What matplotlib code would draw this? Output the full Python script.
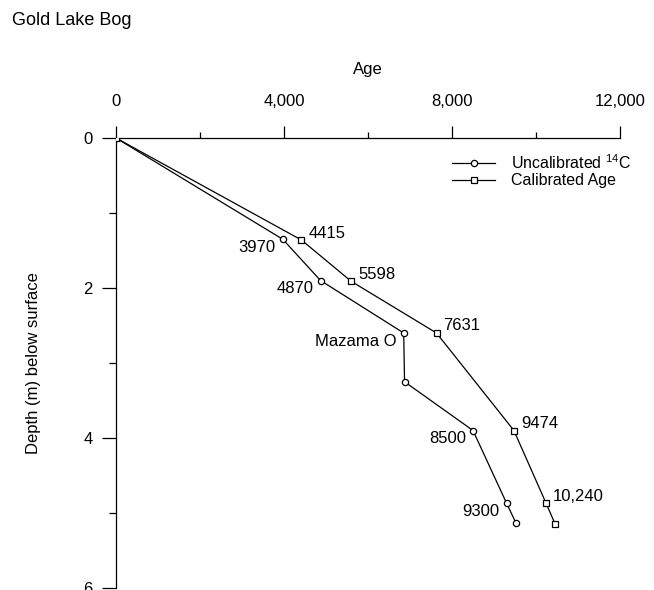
import matplotlib
matplotlib.use('Agg')
import matplotlib.pyplot as plt
from matplotlib.ticker import MultipleLocator, FuncFormatter

plt.rcParams['font.family'] = ['Liberation Sans', 'DejaVu Sans']
plt.rcParams['mathtext.fontset'] = 'custom'
plt.rcParams['mathtext.rm'] = 'Liberation Sans'
plt.rcParams['mathtext.it'] = 'Liberation Sans:italic'

# uncalibrated radiocarbon ages
uncal_age = [0, 3970, 4870, 6850, 6870, 8500, 9300, 9520]
uncal_depth = [0, 1.35, 1.90, 2.60, 3.25, 3.90, 4.87, 5.13]
uncal_labels = ['', '3970', '4870', 'Mazama O', '', '8500', '9300', '']

# calibrated ages
cal_age = [0, 4415, 5598, 7631, 9474, 10240, 10450]
cal_depth = [0, 1.36, 1.91, 2.60, 3.90, 4.87, 5.14]
cal_labels = ['', '4415', '5598', '7631', '9474', '10,240', '']

W, H = 654, 590
fig = plt.figure(figsize=(W / 100, H / 100), dpi=100, facecolor='white')
ax = fig.add_axes([116 / W, 2 / H, 504 / W, 450 / H])

ax.plot(uncal_age, uncal_depth, color='black', lw=0.9, marker='o', ms=4.5,
        mfc='white', mec='black', mew=0.9, label='Uncalibrated $^{14}$C', zorder=3)
ax.plot(cal_age, cal_depth, color='black', lw=0.9, marker='s', ms=5,
        mfc='white', mec='black', mew=0.9, label='Calibrated Age', zorder=3)

px = 0.72  # pixels -> points
for a, d, t in zip(uncal_age, uncal_depth, uncal_labels):
    if t:
        ax.annotate(t, (a, d), xytext=(-7 * px, -8 * px), textcoords='offset points',
                    ha='right', va='center', fontsize=12)
for a, d, t in zip(cal_age, cal_depth, cal_labels):
    if t:
        ax.annotate(t, (a, d), xytext=(7 * px, 7 * px), textcoords='offset points',
                    ha='left', va='center', fontsize=12)

ax.set_xlim(0, 12000)
ax.set_ylim(6, 0)
ax.xaxis.set_ticks_position('top')
ax.xaxis.set_label_position('top')
ax.spines['right'].set_visible(False)
ax.spines['bottom'].set_visible(False)
for s in ('top', 'left'):
    ax.spines[s].set_linewidth(0.9)

ax.xaxis.set_major_locator(MultipleLocator(4000))
ax.xaxis.set_minor_locator(MultipleLocator(2000))
ax.xaxis.set_major_formatter(FuncFormatter(lambda v, p: f'{int(v):,}'))
ax.yaxis.set_major_locator(MultipleLocator(2))
ax.yaxis.set_minor_locator(MultipleLocator(1))

ax.tick_params(axis='x', which='major', direction='out', length=9, width=0.9,
               pad=12, labelsize=12)
ax.tick_params(axis='x', which='minor', direction='out', length=4.5, width=0.9)
ax.tick_params(axis='y', which='major', direction='out', length=10, width=0.9,
               pad=7, labelsize=12)
ax.tick_params(axis='y', which='minor', direction='out', length=5, width=0.9)

ax.set_xlabel('Age', fontsize=12, labelpad=14)
ax.set_ylabel('Depth (m) below surface', fontsize=12, labelpad=30)

ax.legend(loc='upper left', bbox_to_anchor=(452 / W, 1 - 153 / H),
          bbox_transform=fig.transFigure, frameon=False, fontsize=11.5,
          borderpad=0, handlelength=2.7, handletextpad=1.0, labelspacing=0.1,
          borderaxespad=0)

fig.text(12 / W, 1 - 25 / H, 'Gold Lake Bog', fontsize=13, ha='left', va='baseline')

fig.savefig('out.png', dpi=100, facecolor='white')
